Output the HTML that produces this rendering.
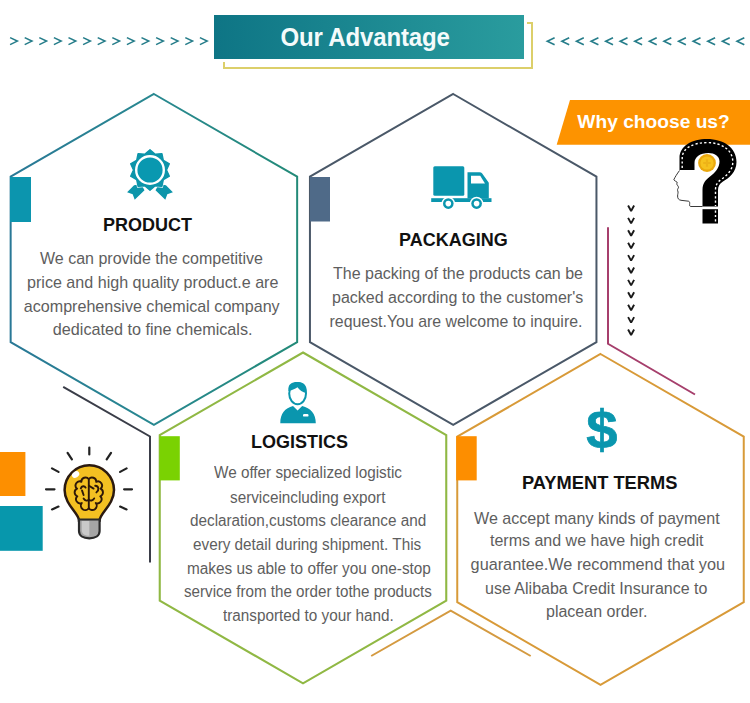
<!DOCTYPE html>
<html><head><meta charset="utf-8">
<style>
*{margin:0;padding:0;box-sizing:border-box}
html,body{width:750px;height:703px;overflow:hidden;background:#fff}
body{position:relative;font-family:"Liberation Sans",sans-serif}
svg.bg{position:absolute;left:0;top:0}
.t{position:absolute;white-space:nowrap;color:#5e5e5e;font-size:16px;line-height:16px}
.h{position:absolute;white-space:nowrap;color:#111;font-weight:bold;font-size:18px;line-height:18px}
.lg{transform:scaleX(0.955);transform-origin:0 0}
.arr{position:absolute;white-space:nowrap;color:#2a7f8c;font-size:13px;line-height:13px;font-weight:bold}
</style></head><body>
<svg class="bg" width="750" height="703" viewBox="0 0 750 703">
<defs>
<linearGradient id="tg" x1="0" x2="1" y1="0" y2="0"><stop offset="0" stop-color="#0e7585"/><stop offset="1" stop-color="#2a9c9e"/></linearGradient>
<linearGradient id="h1g" x1="0" x2="1" y1="0" y2="0"><stop offset="0" stop-color="#297896"/><stop offset="0.5" stop-color="#288890"/><stop offset="1" stop-color="#238a78"/></linearGradient>
</defs>
<!-- title -->
<rect x="224" y="23" width="308" height="45" fill="none" stroke="#dccf6a" stroke-width="2"/>
<rect x="211" y="12" width="316" height="50" fill="#fff"/>
<rect x="214" y="15" width="310" height="44" fill="url(#tg)"/>

<!-- hexagons -->
<polygon points="153.9,94 297.15,176.7 297.15,342.1 153.9,424.8 10.65,342.1 10.65,176.7" fill="none" stroke="url(#h1g)" stroke-width="2"/>
<polygon points="453.2,94 596.45,176.7 596.45,342.1 453.2,424.8 309.95,342.1 309.95,176.7" fill="none" stroke="#4a5868" stroke-width="2"/>
<polygon points="303,352.5 446.25,435.2 446.25,600.6 303,683.3 159.75,600.6 159.75,435.2" fill="none" stroke="#90b844" stroke-width="2.1"/>
<polygon points="600.5,354 743.75,436.7 743.75,602.1 600.5,684.8 457.25,602.1 457.25,436.7" fill="none" stroke="#d89a38" stroke-width="2"/>

<!-- side rects -->
<rect x="10" y="177" width="21" height="45" fill="#0c95ae"/>
<rect x="310" y="177" width="20" height="44.5" fill="#4f6a88"/>
<rect x="159.5" y="436.2" width="20.3" height="44.2" fill="#7ad202"/>
<rect x="456.2" y="436.2" width="20.5" height="44.2" fill="#fd8e00"/>

<!-- extra lines -->
<polyline points="63.2,386.8 150,436.5 150,562.5" fill="none" stroke="#3a3d48" stroke-width="2"/>
<polyline points="608,227.3 608,343.8 695,394.5" fill="none" stroke="#a63f6c" stroke-width="2"/>
<polyline points="371.2,656 450.7,610.7 530.7,656" fill="none" stroke="#d49a40" stroke-width="2"/>

<!-- left blocks -->
<rect x="0" y="452" width="25.4" height="44" fill="#fd8f00"/>
<rect x="0" y="506" width="42.7" height="44.8" fill="#0797ac"/>


<!-- arrows -->
<path d="M10.1,37.6 L17.3,41.1 L10.1,44.6 M24.7,37.6 L31.9,41.1 L24.7,44.6 M39.3,37.6 L46.5,41.1 L39.3,44.6 M53.9,37.6 L61.1,41.1 L53.9,44.6 M68.5,37.6 L75.7,41.1 L68.5,44.6 M83.1,37.6 L90.3,41.1 L83.1,44.6 M97.7,37.6 L104.9,41.1 L97.7,44.6 M112.3,37.6 L119.5,41.1 L112.3,44.6 M126.9,37.6 L134.1,41.1 L126.9,44.6 M141.5,37.6 L148.7,41.1 L141.5,44.6 M156.1,37.6 L163.3,41.1 L156.1,44.6 M170.7,37.6 L177.9,41.1 L170.7,44.6 M185.3,37.6 L192.5,41.1 L185.3,44.6 M199.9,37.6 L207.1,41.1 L199.9,44.6" fill="none" stroke="#267d8a" stroke-width="1.6"/>
<path d="M554.6,37.8 L547.3,41.3 L554.6,44.8 M569.2,37.8 L561.9,41.3 L569.2,44.8 M583.8,37.8 L576.5,41.3 L583.8,44.8 M598.4,37.8 L591.1,41.3 L598.4,44.8 M613.0,37.8 L605.7,41.3 L613.0,44.8 M627.5,37.8 L620.2,41.3 L627.5,44.8 M642.1,37.8 L634.8,41.3 L642.1,44.8 M656.7,37.8 L649.4,41.3 L656.7,44.8 M671.3,37.8 L664.0,41.3 L671.3,44.8 M685.9,37.8 L678.6,41.3 L685.9,44.8 M700.5,37.8 L693.2,41.3 L700.5,44.8 M715.1,37.8 L707.8,41.3 L715.1,44.8 M729.7,37.8 L722.4,41.3 L729.7,44.8 M744.3,37.8 L737.0,41.3 L744.3,44.8" fill="none" stroke="#267d8a" stroke-width="1.6"/>
<!-- v column -->
<path d="M628.1,205.5 L631.1,211.0 L634.1,205.5 M628.1,217.9 L631.1,223.4 L634.1,217.9 M628.1,230.3 L631.1,235.8 L634.1,230.3 M628.1,242.7 L631.1,248.2 L634.1,242.7 M628.1,255.1 L631.1,260.6 L634.1,255.1 M628.1,267.5 L631.1,273.0 L634.1,267.5 M628.1,279.9 L631.1,285.4 L634.1,279.9 M628.1,292.3 L631.1,297.8 L634.1,292.3 M628.1,304.7 L631.1,310.2 L634.1,304.7 M628.1,317.1 L631.1,322.6 L634.1,317.1 M628.1,329.5 L631.1,335.0 L634.1,329.5" fill="none" stroke="#1a1a1a" stroke-width="1.9" stroke-linejoin="bevel"/>

<!-- badge -->
<g fill="#0c95aa">
<path d="M134.05,185.2 L127.1,192.3 L132.7,194.3 L134.7,199.8 L144.5,190.2 L141,184 Z"/>
<path d="M165.95,185.2 L172.9,192.3 L167.3,194.3 L165.3,199.8 L155.5,190.2 L159,184 Z"/>
<polygon points="150.0,149.0 155.3,153.6 162.3,153.0 163.9,159.9 170.0,163.5 167.2,170.0 170.0,176.5 163.9,180.1 162.3,187.0 155.3,186.4 150.0,191.0 144.7,186.4 137.7,187.0 136.1,180.1 130.0,176.5 132.8,170.0 130.0,163.5 136.1,159.9 137.7,153.0 144.7,153.6" stroke="#fff" stroke-width="1.4" stroke-linejoin="round"/>
<polygon points="150.0,149.6 155.3,154.2 162,153.6 163.4,160.3 169.4,163.7 166.6,170.0 169.4,176.3 163.4,179.7 162,186.4 155.3,185.8 150.0,190.4 144.7,185.8 138,186.4 136.6,179.7 130.6,176.3 133.4,170.0 130.6,163.7 136.6,160.3 138,153.6 144.7,154.2" stroke="#0c95aa" stroke-width="1.2" stroke-linejoin="round"/>
<circle cx="150" cy="170" r="13.8" fill="#0998b0" stroke="#fff" stroke-width="2.4"/>
</g>

<!-- truck -->
<g fill="#0a96ae">
<rect x="433.3" y="166.2" width="31" height="29.5" rx="1.5"/>
<path d="M467.5,172.2 L479.5,172.2 Q481.2,172.2 482.2,173.6 L488.8,182.8 L488.8,198.5 L467.5,198.5 Z"/>
<rect x="431.2" y="198.2" width="60.3" height="3.8"/>
<circle cx="448.3" cy="203.6" r="6.8" fill="#fff"/>
<circle cx="476.6" cy="203.6" r="6.8" fill="#fff"/>
<circle cx="448.3" cy="203.6" r="5.3"/>
<circle cx="476.6" cy="203.6" r="5.3"/>
<circle cx="448.3" cy="203.6" r="2.8" fill="#fff"/>
<circle cx="476.6" cy="203.6" r="2.8" fill="#fff"/>
<path d="M471,175.8 L480.2,175.8 L485,183.6 L471,183.6 Z" fill="#fff"/>
</g>

<!-- person -->
<g fill="#0a96ae">
<path d="M280.3,423.3 C280.3,413.5 285,408 293,406 L297.6,410.5 L302.2,406 C310.5,408 315.8,413.5 315.8,423.3 Z"/>
<path d="M296.6,407.2 L298.6,407.2 L297.6,410 Z" fill="#fff"/>
<rect x="303" y="414" width="5.5" height="2.6" rx="1.2" fill="#fff"/>
<ellipse cx="297.6" cy="393.6" rx="8.4" ry="10.6" fill="#fff" stroke="#0a96ae" stroke-width="2"/>
<path d="M288.4,391 C287.8,384 291.5,382 297.6,382 C304,382 307.4,385.5 306.6,393 C302.5,392.5 299.5,390 297.5,387.2 C295,388.8 291.5,390.3 288.4,391 Z"/>
</g>

<!-- dollar -->
<text x="0" y="447.6" text-anchor="middle" font-family="Liberation Sans" font-weight="bold" font-size="53" fill="#0a96ae" stroke="#0a96ae" stroke-width="0.7" transform="translate(601.8 0) scale(1.06 1)">$</text>

<!-- lightbulb -->
<g stroke="#222" stroke-width="2.2" stroke-linecap="round" fill="none">
<path d="M89.3,447.5 L89.3,454.5 M67.6,452.8 L71.9,459.3 M111,452.8 L106.7,459.3 M52,468.4 L58.5,471.9 M126.6,468.4 L120.1,471.9 M46,489.3 L54.5,489.3 M124.1,489.3 L132,489.3 M52,509.4 L58.5,506.6 M126.6,509.4 L120.1,506.6"/>
</g>
<path d="M79,520.5 C79,513 64.6,505 64.6,490 A24.7,24.7 0 1 1 114,490 C114,505 99.6,513 99.6,520.5 Z" fill="#f3c022" stroke="#2b1a10" stroke-width="2.5"/>
<path d="M79,519.5 L79,531 C79,535.5 83,538.3 89.3,538.3 C95.6,538.3 99.6,535.5 99.6,531 L99.6,519.5 Z" fill="#a5a5a5" stroke="#2a2a2a" stroke-width="2.2"/>
<path d="M81.8,521 L81.8,530.5 C81.8,534 85,535.8 89.3,535.8 L89.3,521 Z" fill="#c9c9c9"/>
<ellipse cx="75.6" cy="474.6" rx="3.9" ry="3" fill="#fff" transform="rotate(-35 75.6 474.6)"/>
<g fill="none" stroke="#2e1808" stroke-width="1.9" stroke-linecap="round" stroke-linejoin="round">
<path d="M88.8,479.2 A4.1,4.1 0 0 0 81.4,481.8 A4.1,4.1 0 0 0 77.1,488.7 A4.1,4.1 0 0 0 77.3,496.3 A4.1,4.1 0 0 0 81.8,503 A4.3,4.3 0 0 0 88.8,508.3 A4.3,4.3 0 0 0 95.8,503 A4.1,4.1 0 0 0 100.3,496.3 A4.1,4.1 0 0 0 100.5,488.7 A4.1,4.1 0 0 0 96.2,481.8 A4.1,4.1 0 0 0 88.8,479.2 Z"/>
<path d="M88.8,480 L88.8,508.5"/>
<path d="M85.6,487.6 C84.6,485.6 81.6,485.6 80.8,488.4 M82,490.4 L83.6,495"/>
<path d="M89,485.8 L93.6,488.6 M95.2,485.8 C98.6,486 99.6,489.6 96.4,492.4"/>
<path d="M83.6,498.6 C85,501 87.6,501.2 88.8,499.6 C90.2,501.2 93,500.8 94.2,498.4"/>
</g>

<!-- why choose us banner -->
<polygon points="570,100 750,100 750,144.7 556.7,144.7" fill="#fd9300"/>
<!-- head question mark -->
<path d="M679.5,170 L679.5,158 C679.5,146 692,139 707,139 C724,139 736.5,148 736.5,162 C736.5,172 729,178 723,181.5 C719.5,183.5 718,186.5 718,190 L718,206.5 L702.5,206.5 L702.5,190 C702.5,183 706,179.5 710,176.5 C715,172.5 719.5,168 719.5,161.5 C719.5,156 714.5,153 708.5,153 C700,153 694.5,157 694.5,163 L694.5,170 Z" fill="#000"/>
<rect x="702.5" y="209.2" width="15.5" height="14.3" fill="#000"/>
<path d="M682.2,168 L682.2,158 C682.2,148 693.5,142.6 707,142.6 C722,142.6 732.8,150 732.8,162 C732.8,170 727,175.5 721,179.5 C717,182.5 715.5,185.5 715.5,190 L715.5,206 M715.5,210.5 L715.5,223" fill="none" stroke="#fff" stroke-width="1.4" stroke-dasharray="2.2 2.2"/>
<circle cx="707" cy="163" r="8.9" fill="#eaa80e"/>
<circle cx="707" cy="163" r="6.6" fill="#f6c21e"/>
<path d="M707,159.2 L707,166.8 M703.2,163 L710.8,163" stroke="#eeb318" stroke-width="2.2"/>
<path d="M679.5,170.5 C677,174 675,177 673.8,179.8 C674.5,181 676.5,181.5 677.2,182.3 C677,183.2 676.5,184 677.2,185 C678,186 678.8,187 678.4,188 C677.5,189 677.3,190 677.8,191 C678.5,192.5 677.6,194 677.6,196 C677.6,198.5 678.5,199.8 681,200.3 L688.5,201.2 C689.8,201.5 689.8,203 689.6,204.5 C689.5,206 690,206.5 691,206.5 L702.5,206.5" fill="none" stroke="#222" stroke-width="0.9"/>
</svg>

<div class="h" style="left:280.5px;top:24.4px;font-size:24px;line-height:24px;letter-spacing:-0.15px;color:#f4fbfb;transform:scaleY(1.09);transform-origin:0 0">Our Advantage</div>
<div class="h" style="left:577.3px;top:111.6px;font-size:19.2px;line-height:19px;color:#fff">Why choose us?</div>


<div class="h" style="left:103px;top:216px">PRODUCT</div>
<div class="t" style="left:40px;top:251px">We can provide the competitive</div>
<div class="t" style="left:27px;top:274.3px;font-size:16.1px">price and high quality product.e are</div>
<div class="t" style="left:23.8px;top:298.3px;font-size:16.1px">acomprehensive chemical company</div>
<div class="t" style="left:52.8px;top:321.2px;font-size:16.2px">dedicated to fine chemicals.</div>

<div class="h" style="left:399px;top:231px">PACKAGING</div>
<div class="t" style="left:333px;top:266px">The packing of the products can be</div>
<div class="t" style="left:332px;top:290px">packed according to the customer's</div>
<div class="t" style="left:329.5px;top:314px;font-size:15.9px">request.You are welcome to inquire.</div>

<div class="h" style="left:251px;top:433.3px">LOGISTICS</div>
<div class="t lg" style="left:213.6px;top:465px">We offer specialized logistic</div>
<div class="t lg" style="left:229.8px;top:490px">serviceincluding export</div>
<div class="t lg" style="left:189.8px;top:513px">declaration,customs clearance and</div>
<div class="t lg" style="left:193.4px;top:537px">every detail during shipment. This</div>
<div class="t lg" style="left:186.6px;top:561px;transform:scaleX(0.96)">makes us able to offer you one-stop</div>
<div class="t lg" style="left:183.9px;top:584px;transform:scaleX(0.948)">service from the order tothe products</div>
<div class="t lg" style="left:222.8px;top:608px">transported to your hand.</div>

<div class="h" style="left:522px;top:474px;font-size:18.3px">PAYMENT TERMS</div>
<div class="t" style="left:474px;top:509.5px;font-size:16.1px">We accept many kinds of payment</div>
<div class="t" style="left:490px;top:533px">terms and we have high credit</div>
<div class="t" style="left:470.6px;top:556px;font-size:16.25px">guarantee.We recommend that you</div>
<div class="t" style="left:485px;top:580.5px">use Alibaba Credit Insurance to</div>
<div class="t" style="left:546px;top:603.5px">placean order.</div>
</body></html>
